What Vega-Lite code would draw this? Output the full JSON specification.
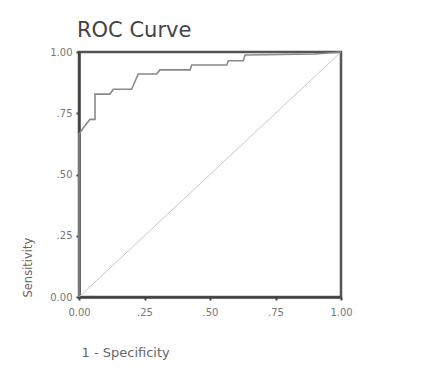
{
  "$schema": "https://vega.github.io/schema/vega-lite/v6.json",
  "autosize": "none",
  "width": 262,
  "height": 245,
  "padding": {"left": 79, "top": 52, "right": 83, "bottom": 71},
  "background": "white",
  "config": {
    "font": "DejaVu Sans",
    "view": {"stroke": "#555555", "strokeWidth": 2.5},
    "axis": {"grid": false, "labelFlush": false, "domainColor": "#444444", "domainWidth": 2.5, "tickColor": "#444444", "tickSize": 3, "tickWidth": 2, "labelColor": "#777777", "labelFontSize": 10, "titleColor": "#666666", "titleFontSize": 13, "titleFontWeight": "normal"}
  },
  "title": {"text": "ROC Curve", "anchor": "start", "frame": "group", "fontSize": 21, "fontWeight": "normal", "color": "#444444", "offset": 6, "dx": -2},
  "datasets": {
    "roc": [
      {"fpr": 0.0, "tpr": 0.0},
      {"fpr": 0.0, "tpr": 0.664},
      {"fpr": 0.016, "tpr": 0.69},
      {"fpr": 0.042, "tpr": 0.725},
      {"fpr": 0.061, "tpr": 0.725},
      {"fpr": 0.061, "tpr": 0.828},
      {"fpr": 0.118, "tpr": 0.828},
      {"fpr": 0.131, "tpr": 0.848},
      {"fpr": 0.201, "tpr": 0.848},
      {"fpr": 0.226, "tpr": 0.91},
      {"fpr": 0.296, "tpr": 0.91},
      {"fpr": 0.309, "tpr": 0.927},
      {"fpr": 0.424, "tpr": 0.927},
      {"fpr": 0.43, "tpr": 0.947},
      {"fpr": 0.564, "tpr": 0.947},
      {"fpr": 0.57, "tpr": 0.964},
      {"fpr": 0.627, "tpr": 0.964},
      {"fpr": 0.634, "tpr": 0.988},
      {"fpr": 0.9, "tpr": 0.992},
      {"fpr": 1.0, "tpr": 1.0}
    ],
    "diag": [
      {"fpr": 0.0, "tpr": 0.0},
      {"fpr": 1.0, "tpr": 1.0}
    ]
  },
  "encoding": {
    "x": {"field": "fpr", "type": "quantitative", "scale": {"domain": [0, 1], "nice": false},
      "axis": {"values": [0, 0.25, 0.5, 0.75, 1], "labelExpr": "datum.value == 0 ? '0.00' : datum.value == 1 ? '1.00' : replace(format(datum.value, '.2f'), '0.', '.')", "labelPadding": 7, "title": "1 - Specificity", "titleAnchor": "start", "titleAlign": "left", "titleBaseline": "middle", "titleX": 2, "titleY": 55}},
    "y": {"field": "tpr", "type": "quantitative", "scale": {"domain": [0, 1], "nice": false},
      "axis": {"values": [0, 0.25, 0.5, 0.75, 1], "labelExpr": "datum.value == 0 ? '0.00' : datum.value == 1 ? '1.00' : replace(format(datum.value, '.2f'), '0.', '.')", "labelPadding": 4, "title": "Sensitivity", "titleFontSize": 11.5, "titleAngle": -90, "titleAlign": "left", "titleBaseline": "middle", "titleX": -51, "titleY": 245}}
  },
  "layer": [
    {"data": {"name": "diag"}, "mark": {"type": "line", "color": "#c8c8c8", "strokeWidth": 1}},
    {"data": {"name": "roc"}, "mark": {"type": "line", "color": "#888888", "strokeWidth": 1.6}}
  ]
}
